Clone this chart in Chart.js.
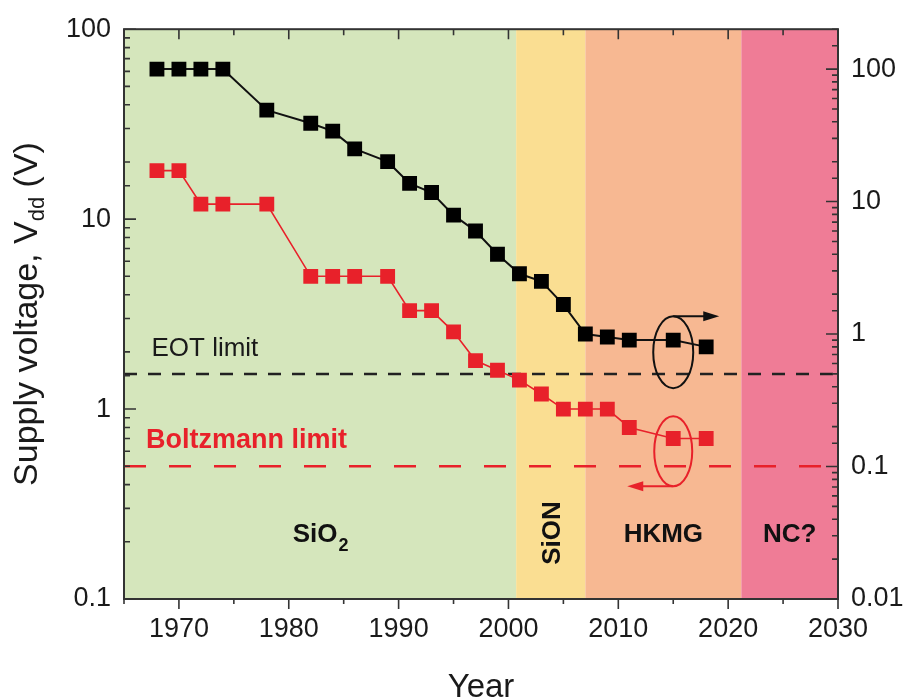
<!DOCTYPE html>
<html>
<head>
<meta charset="utf-8">
<script src="https://cdn.jsdelivr.net/npm/chart.js@4.4.1/dist/chart.umd.min.js"></script>
<style>
  html, body { margin: 0; padding: 0; background: #fff; }
  #wrap { width: 913px; height: 700px; position: relative; }
</style>
</head>
<body>
<div id="wrap"><canvas id="vddChart"></canvas></div>
<script>
// values
const years = [1968, 1970, 1972, 1974, 1978, 1982, 1984, 1986, 1989, 1991, 1993, 1995, 1997, 1999, 2001, 2003, 2005, 2007, 2009, 2011, 2015, 2018];
const eotNm = [100, 100, 100, 100, 49, 39, 34, 25, 20, 13.7, 11.7, 7.9, 6.0, 4.0, 2.85, 2.5, 1.67, 1.0, 0.95, 0.9, 0.9, 0.8];
const vddVolts = [18, 18, 12, 12, 12, 5, 5, 5, 5, 3.3, 3.3, 2.55, 1.8, 1.6, 1.42, 1.2, 1.0, 1.0, 1.0, 0.8, 0.7, 0.7];
const yearRange = [1965, 2030];
const vddRange = [0.1, 100];
const eotRange = [0.01, 200];
const eotLimit = 0.5;
const boltzmannLimit = 0.5;

// gate dielectric eras (background bands)
const eraNames = ['SiO2', 'SiON', 'HKMG', 'NC?'];
const eraStart = [1965, 2000.7, 2007, 2021.2];
const eraEnd = [2000.7, 2007, 2021.2, 2030];
const eraColors = ['#d5e6bc', '#fade92', '#f7b892', '#ef7c96'];

const FONT = "'Liberation Sans', Arial, Helvetica, sans-serif";
const RED = '#e8212a';

function isDecade(v) {
  const l = Math.log10(v);
  return Math.abs(l - Math.round(l)) < 1e-6;
}

// background bands + their labels
const erasPlugin = {
  id: 'eras',
  beforeDatasetsDraw(chart) {
    const { ctx, chartArea: a, scales: { x } } = chart;
    ctx.save();
    eraNames.forEach((name, i) => {
      const x0 = x.getPixelForValue(eraStart[i]);
      const x1 = x.getPixelForValue(eraEnd[i]);
      ctx.fillStyle = eraColors[i];
      ctx.fillRect(x0, a.top, x1 - x0, a.bottom - a.top);
    });
    ctx.fillStyle = '#111';
    ctx.font = 'bold 26px ' + FONT;
    ctx.textBaseline = 'alphabetic';
    const base = 542;
    eraNames.forEach((name, i) => {
      const cx = (x.getPixelForValue(eraStart[i]) + x.getPixelForValue(eraEnd[i])) / 2;
      if (name === 'SiO2') {
        const w1 = ctx.measureText('SiO').width;
        ctx.font = 'bold 18px ' + FONT;
        const w2 = ctx.measureText('2').width;
        ctx.font = 'bold 26px ' + FONT;
        ctx.textAlign = 'left';
        ctx.fillText('SiO', cx - (w1 + w2) / 2, base);
        ctx.font = 'bold 18px ' + FONT;
        ctx.fillText('2', cx - (w1 + w2) / 2 + w1 + 1, base + 9);
        ctx.font = 'bold 26px ' + FONT;
      } else if (name === 'SiON') {
        ctx.save();
        ctx.translate(cx + 9, 533);
        ctx.rotate(-Math.PI / 2);
        ctx.textAlign = 'center';
        ctx.fillText(name, 0, 0);
        ctx.restore();
      } else {
        ctx.textAlign = 'center';
        ctx.fillText(name, cx, base);
      }
    });
    ctx.restore();
  }
};

// frame, inward ticks, ellipses, annotations, axis titles
const decorPlugin = {
  id: 'decor',
  afterDraw(chart) {
    const { ctx, chartArea: a, scales: { x, y, y2 } } = chart;
    ctx.save();

    // limit labels
    ctx.textAlign = 'left';
    ctx.textBaseline = 'alphabetic';
    ctx.fillStyle = '#1a1a1a';
    ctx.font = '26px ' + FONT;
    ctx.fillText('EOT limit', x.getPixelForValue(1967.5), y2.getPixelForValue(eotLimit) - 18);
    ctx.fillStyle = RED;
    ctx.font = 'bold 27px ' + FONT;
    ctx.fillText('Boltzmann limit', x.getPixelForValue(1967), y.getPixelForValue(boltzmannLimit) - 18);

    // ellipses with arrows pointing to the matching axis
    const ex = x.getPixelForValue(years[20]);
    const ey1 = y2.getPixelForValue(0.73);
    ctx.lineWidth = 2;
    ctx.strokeStyle = '#111';
    ctx.fillStyle = '#111';
    ctx.beginPath();
    ctx.ellipse(ex, ey1, 20, 36, 0, 0, Math.PI * 2);
    ctx.stroke();
    ctx.beginPath();
    ctx.moveTo(ex, ey1 - 36);
    ctx.lineTo(ex + 32, ey1 - 36);
    ctx.stroke();
    ctx.beginPath();
    ctx.moveTo(ex + 46, ey1 - 36);
    ctx.lineTo(ex + 30, ey1 - 41);
    ctx.lineTo(ex + 30, ey1 - 31);
    ctx.closePath();
    ctx.fill();

    const ey2 = y.getPixelForValue(0.6);
    ctx.strokeStyle = RED;
    ctx.fillStyle = RED;
    ctx.beginPath();
    ctx.ellipse(ex, ey2, 19, 35, 0, 0, Math.PI * 2);
    ctx.stroke();
    ctx.beginPath();
    ctx.moveTo(ex, ey2 + 35);
    ctx.lineTo(ex - 32, ey2 + 35);
    ctx.stroke();
    ctx.beginPath();
    ctx.moveTo(ex - 46, ey2 + 35);
    ctx.lineTo(ex - 30, ey2 + 30);
    ctx.lineTo(ex - 30, ey2 + 40);
    ctx.closePath();
    ctx.fill();

    // frame
    ctx.strokeStyle = '#333';
    ctx.lineWidth = 2;
    ctx.strokeRect(a.left, a.top, a.right - a.left, a.bottom - a.top);

    // ticks
    ctx.lineWidth = 1.6;
    ctx.beginPath();
    y.ticks.forEach(t => {
      const py = y.getPixelForValue(t.value);
      const len = isDecade(t.value) ? 12 : 6;
      ctx.moveTo(a.left, py);
      ctx.lineTo(a.left + len, py);
    });
    y2.ticks.forEach(t => {
      const py = y2.getPixelForValue(t.value);
      const len = isDecade(t.value) ? 12 : 6;
      ctx.moveTo(a.right, py);
      ctx.lineTo(a.right - len, py);
    });
    x.ticks.forEach(t => {
      const px = x.getPixelForValue(t.value);
      const major = t.value % 10 === 0;
      ctx.moveTo(px, a.bottom);
      ctx.lineTo(px, a.bottom + (major ? 10 : 5));
      ctx.moveTo(px, a.top);
      ctx.lineTo(px, a.top + (major ? 10 : 6));
    });
    ctx.stroke();

    // axis titles
    ctx.fillStyle = '#1a1a1a';
    ctx.textBaseline = 'alphabetic';
    ctx.textAlign = 'center';
    ctx.font = '33px ' + FONT;
    ctx.fillText('Year', (a.left + a.right) / 2, 697);

    ctx.translate(25, 314);
    ctx.rotate(-Math.PI / 2);
    ctx.textAlign = 'left';
    const big = '34px ' + FONT, small = '22px ' + FONT;
    ctx.font = big;
    const p1 = 'Supply voltage, V', p3 = ' (V)';
    const w1 = ctx.measureText(p1).width, w3 = ctx.measureText(p3).width;
    ctx.font = small;
    const w2 = ctx.measureText('dd').width;
    let cx = -(w1 + w2 + w3) / 2;
    ctx.font = big;
    ctx.fillText(p1, cx, 12);
    cx += w1;
    ctx.font = small;
    ctx.fillText('dd', cx, 19);
    cx += w2;
    ctx.font = big;
    ctx.fillText(p3, cx, 12);
    ctx.restore();
  }
};

const tickFont = { family: FONT, size: 27 };
const decadeLabel = v => isDecade(v) ? String(Number(v.toPrecision(2))) : '';

const ctx = document.getElementById('vddChart').getContext('2d');

new Chart(ctx, {
  type: 'line',
  data: {
    datasets: [
      {
        label: 'EOT',
        yAxisID: 'y2',
        data: years.map((yr, i) => ({ x: yr, y: eotNm[i] })),
        borderColor: '#111',
        backgroundColor: '#000',
        borderWidth: 2,
        pointStyle: 'rect',
        pointRadius: 10.5,
        pointBackgroundColor: '#000',
        pointBorderColor: '#000',
        pointBorderWidth: 0,
        order: 1
      },
      {
        label: 'Vdd',
        yAxisID: 'y',
        data: years.map((yr, i) => ({ x: yr, y: vddVolts[i] })),
        borderColor: RED,
        backgroundColor: RED,
        borderWidth: 1.6,
        pointStyle: 'rect',
        pointRadius: 10.5,
        pointBackgroundColor: RED,
        pointBorderColor: RED,
        pointBorderWidth: 0,
        order: 2
      },
      {
        label: 'EOT limit',
        yAxisID: 'y2',
        data: [{ x: yearRange[0], y: eotLimit }, { x: yearRange[1], y: eotLimit }],
        borderColor: '#222',
        borderWidth: 2.5,
        borderDash: [13, 11],
        pointRadius: 0,
        order: 3
      },
      {
        label: 'Boltzmann limit',
        yAxisID: 'y',
        data: [{ x: yearRange[0], y: boltzmannLimit }, { x: yearRange[1], y: boltzmannLimit }],
        borderColor: RED,
        borderWidth: 2.5,
        borderDash: [22, 23],
        pointRadius: 0,
        order: 4
      }
    ]
  },
  options: {
    responsive: true,
    maintainAspectRatio: false,
    animation: false,
    layout: { padding: { top: 22, left: 0, right: 0, bottom: 0 } },
    plugins: {
      legend: { display: false },
      tooltip: { enabled: false }
    },
    scales: {
      x: {
        type: 'linear',
        min: yearRange[0],
        max: yearRange[1],
        grid: { display: false, drawTicks: false },
        border: { display: false },
        ticks: {
          stepSize: 5,
          autoSkip: false,
          maxRotation: 0,
          padding: 14,
          color: '#1a1a1a',
          font: tickFont,
          callback: v => v % 10 === 0 ? String(v) : ''
        },
        afterFit: s => { s.height = 101; }
      },
      y: {
        type: 'logarithmic',
        position: 'left',
        min: vddRange[0],
        max: vddRange[1],
        grid: { display: false, drawTicks: false },
        border: { display: false },
        ticks: { autoSkip: false, padding: 13, color: '#1a1a1a', font: tickFont, callback: decadeLabel },
        afterFit: s => { s.width = 124; }
      },
      y2: {
        type: 'logarithmic',
        position: 'right',
        min: eotRange[0],
        max: eotRange[1],
        grid: { display: false, drawTicks: false },
        border: { display: false },
        ticks: { autoSkip: false, padding: 13, color: '#1a1a1a', font: tickFont, callback: decadeLabel },
        afterFit: s => { s.width = 75; }
      }
    }
  },
  plugins: [erasPlugin, decorPlugin]
});
</script>
</body>
</html>
